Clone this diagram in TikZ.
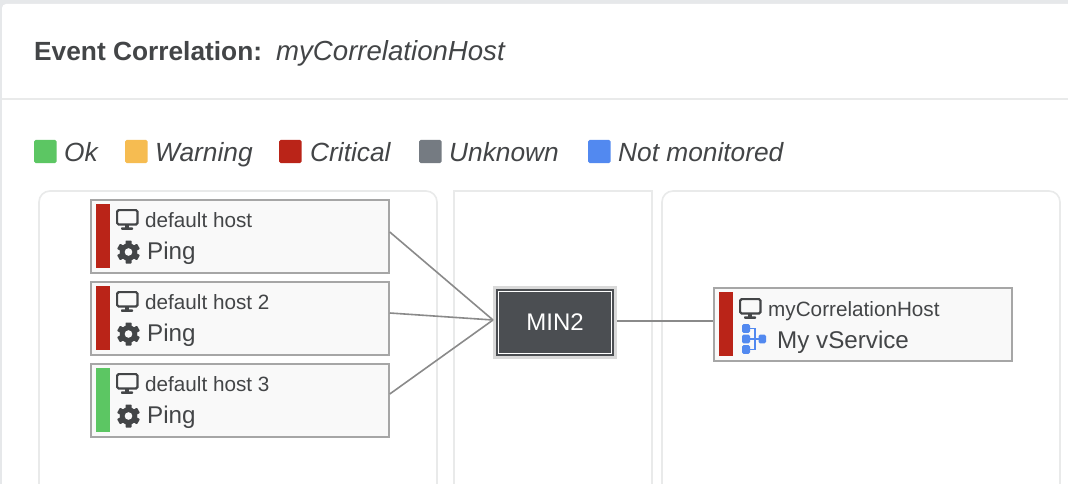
\documentclass[tikz,border=0pt]{standalone}
\usepackage{fontspec}
\setmainfont{Liberation Sans}
\usepackage{tikz}
\definecolor{Okay}{HTML}{5CC663}
\definecolor{Warn}{HTML}{F6BC51}
\definecolor{Crit}{HTML}{BA2418}
\definecolor{Unkn}{HTML}{757B82}
\definecolor{NotMon}{HTML}{5289F0}
\definecolor{Ink}{HTML}{434547}
\definecolor{Rule}{HTML}{E9EAEA}
\definecolor{Strip}{HTML}{E6E8EA}
\definecolor{Slate}{HTML}{4B4E52}
\newcommand{\px}[1]{\fontsize{#1}{#1}\selectfont}
\tikzset{
  panel/.style={draw=Rule,line width=1.6pt},
  hostbox/.style={draw=black!35,fill=black!2.5,line width=2pt,minimum width=297.5pt,minimum height=73pt,inner sep=0pt},
  hosttext/.style={anchor=base west,inner sep=0pt,text=Ink,font=\px{20.7}},
  checktext/.style={anchor=base west,inner sep=0pt,text=Ink,font=\px{24.2}},
  legendtext/.style={anchor=base west,inner sep=0pt,text=Ink,font=\px{26.3}\itshape},
  edge/.style={draw=black!46,line width=1.6pt},
  monitoricon/.pic={
    \draw[Ink,line width=2.2pt,rounded corners=1.5pt] (1.1,1.1) rectangle (21.5,15.5);
    \fill[Ink] (9,15.5) rectangle (13.2,19.5);
    \fill[Ink,rounded corners=0.8pt] (5,18.4) rectangle (17,20.8);
  },
  gearicon/.pic={
    \foreach \a in {0,60,...,300}{\fill[Ink,rotate=\a,rounded corners=0.7pt] (-3,-11.5) rectangle (3,0);}
    \fill[Ink] (0,0) circle (8.8);
    \fill[black!2.5] (0,0) circle (3.8);
  },
  treeicon/.pic={
    \draw[NotMon,line width=1.4pt] (7,4.5) -| (13,25.5) -- (7,25.5) (7,15) -- (20,15);
    \foreach \y in {4.5,15,25.5}{\fill[NotMon,rounded corners=1.6pt] (0,\y-4.4) rectangle +(8,8.8);}
    \fill[NotMon,rounded corners=1.6pt] (16.5,10.6) rectangle +(7.5,8.8);
  }
}
\begin{document}
\begin{tikzpicture}[x=1pt,y=-1pt]
  \useasboundingbox (0,0) rectangle (1068,484);
  \clip (0,0) rectangle (1068,484);
  \fill[Strip] (0,0) rectangle (1068,484);
  \fill[white,rounded corners=4pt] (2,4) rectangle (1090,500);
  \draw[Rule,line width=1.6pt] (2,99) -- (1068,99);
  \node[anchor=base west,inner sep=0pt,text=Ink,font=\px{26.3}\bfseries] (title) at (34,61) {Event Correlation:};
  \node[anchor=base west,inner sep=0pt,text=Ink,font=\px{27.6}\itshape] (titlehost) at (276,61) {myCorrelationHost};
  % legend
  \foreach \x/\tx/\c/\t in {34/64/Okay/Ok,125/155/Warn/Warning,279/310/Crit/Critical,419/449/Unkn/Unknown,588/618/NotMon/Not monitored}{
    \fill[\c,rounded corners=1.5pt] (\x,140) rectangle +(22.5,23);
    \node[legendtext] (legend\c) at (\tx,161) {\t};
  }
  % columns
  \draw[panel,rounded corners=11pt] (39,520) -- (39,191) -- (437,191) -- (437,520);
  \draw[panel] (454,520) -- (454,191) -- (652,191) -- (652,520);
  \draw[panel,rounded corners=11pt] (662,520) -- (662,191) -- (1060,191) -- (1060,520);
  % hosts
  \foreach \i/\y/\t/\c in {1/199/default host/Crit,2/281/default host 2/Crit,3/363/default host 3/Okay}{
    \node[hostbox] (host\i) at (240,\y+37) {};
    \fill[\c] (96,\y+5) rectangle +(14,64);
    \pic at (116,\y+10) {monitoricon};
    \node[hosttext] (hostname\i) at (145,\y+28) {\t};
    \pic at (128.5,\y+53) {gearicon};
    \node[checktext] (check\i) at (147,\y+60.5) {Ping};
  }
  % aggregation and result
  \node[draw=black!15,line width=3pt,fill=Slate,text=white,font=\px{24},minimum width=121pt,minimum height=70pt,inner sep=0pt] (min2) at (555,322.5) {MIN2};
  \draw[white,line width=1.3pt] ([shift={(5.3pt,-5.3pt)}]min2.north west) rectangle ([shift={(-5.3pt,5.3pt)}]min2.south east);
  \node[hostbox] (result) at (863,324) {};
  \fill[Crit] (719,292) rectangle +(14,64);
  \pic at (739,298) {monitoricon};
  \node[hosttext] (resultname) at (768,316) {myCorrelationHost};
  \pic at (742,324) {treeicon};
  \node[checktext] (service) at (777,348) {My vService};
  % connectors
  \draw[edge] ([yshift=4pt]host1.east) -- ([yshift=2.5pt]min2.west);
  \draw[edge] ([yshift=5pt]host2.east) -- ([yshift=2.5pt]min2.west);
  \draw[edge] ([yshift=6pt]host3.east) -- ([yshift=2.5pt]min2.west);
  \draw[edge] ([yshift=1.5pt]min2.east) -- ([yshift=3pt]result.west);
\end{tikzpicture}
\end{document}
